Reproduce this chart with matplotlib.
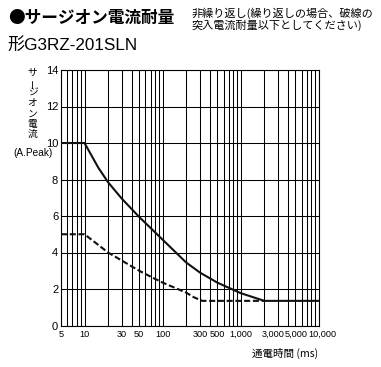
import matplotlib
matplotlib.use("Agg")
import matplotlib.pyplot as plt
from matplotlib.ticker import FixedLocator, FixedFormatter, LogLocator, NullFormatter
from matplotlib.transforms import ScaledTranslation

plt.rcParams['font.family'] = ['Liberation Sans', 'Noto Sans CJK JP', 'DejaVu Sans']

# Data
solid_x = [5, 10, 15, 20, 30, 50, 100, 200, 300, 500, 1000, 2000, 10000]
solid_y = [10, 10, 8.65, 7.85, 6.95, 5.95, 4.7, 3.45, 2.9, 2.35, 1.77, 1.35, 1.35]
dashed_x = [5, 10, 20, 50, 76, 100, 200, 250, 320, 2000]
dashed_y = [5, 5, 4.0, 3.0, 2.6, 2.35, 1.8, 1.55, 1.35, 1.35]

xtick_vals = [5, 10, 30, 50, 100, 300, 500, 1000, 3000, 5000, 10000]
xtick_labels = ['5', '10', '30', '50', '100', '300', '500', '1,000', '3,000', '5,000', '10,000']
ytick_vals = [0, 2, 4, 6, 8, 10, 12, 14]

fig = plt.figure(figsize=(3.81, 3.67), dpi=100)
ax = fig.add_axes([61/381, 1-325.5/367, (319-61)/381, (325.5-70)/367])

ax.set_xscale('log')
ax.set_xlim(5, 10000)
ax.set_ylim(0, 14)

ax.xaxis.set_major_locator(FixedLocator(xtick_vals))
ax.xaxis.set_major_formatter(FixedFormatter(xtick_labels))
ax.xaxis.set_minor_locator(LogLocator(base=10, subs=range(1, 10), numticks=50))
ax.xaxis.set_minor_formatter(NullFormatter())
ax.set_yticks(ytick_vals)
ax.grid(True, which='both', axis='x', color='black', lw=0.75)
ax.grid(True, which='major', axis='y', color='black', lw=0.75)
ax.tick_params(which='both', length=0)
ax.tick_params(axis='x', labelsize=6.6, pad=3)
ax.tick_params(axis='y', labelsize=8.0, pad=2)
for s in ax.spines.values():
    s.set_linewidth(0.8)
    s.set_color('black')

# nudge crowded x tick labels sideways (pixels), as in the reference
label_shift = {'3,000': -5.0, '5,000': 0.5, '10,000': 3.0}
fig.canvas.draw()
for lab in ax.get_xticklabels():
    dx = label_shift.get(lab.get_text(), 0.0)
    if dx:
        lab.set_transform(lab.get_transform() + ScaledTranslation(dx / 100, 0, fig.dpi_scale_trans))

ax.plot(solid_x, solid_y, color='#111111', lw=1.5, solid_capstyle='butt', zorder=3)
ax.plot(dashed_x, dashed_y, color='#111111', lw=1.5, dashes=(2.9, 1.3), zorder=3)

# texts
fig.text(8/381, 1-18/367, '●サージオン電流耐量', fontsize=12, fontweight='bold', va='center', ha='left',
         family=['Noto Sans CJK JP', 'DejaVu Sans'])
fig.text(192/381, 1-19.5/367, '非繰り返し(繰り返しの場合、破線の\n突入電流耐量以下としてください)',
         fontsize=8.0, va='center', ha='left', linespacing=1.12,
         family=['Noto Sans CJK JP', 'DejaVu Sans'])
fig.text(7/381, 1-45/367, '形G3RZ-201SLN', fontsize=12.3, va='center', ha='left')

ychars = 'サージオン電流'
for i, ch in enumerate(ychars):
    fig.text(32.5/381, 1-(72.7 + i*10.2)/367, ch, fontsize=7.0, ha='center', va='center',
             rotation=90 if ch == 'ー' else 0, family=['Noto Sans CJK JP', 'DejaVu Sans'])
fig.text(33/381, 1-153.5/367, '(A.Peak)', fontsize=7.3, ha='center', va='center')

fig.text(318/381, 1-353/367, '通電時間 (ms)', fontsize=7.6, ha='right', va='center',
         family=['Noto Sans CJK JP', 'DejaVu Sans'])

fig.savefig('out.png', dpi=100)
